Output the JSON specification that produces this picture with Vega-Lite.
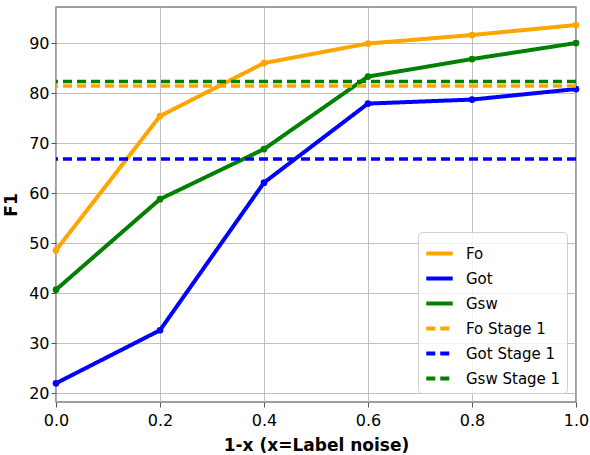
{
  "$schema": "https://vega.github.io/schema/vega-lite/v6.json",
  "autosize": {"type": "none"},
  "width": 520,
  "height": 395,
  "padding": {"left": 56, "top": 7, "right": 14, "bottom": 53},
  "config": {
    "font": "DejaVu Sans",
    "view": {"stroke": "#808080", "strokeWidth": 1.5},
    "axis": {
      "labelFont": "DejaVu Sans", "labelFontSize": 16, "labelColor": "#000",
      "titleFont": "DejaVu Sans", "titleFontSize": 17, "titleFontWeight": "bold", "titleColor": "#000",
      "gridColor": "#b0b0b0", "gridWidth": 1, "gridOpacity": 0.8,
      "tickColor": "#555", "tickSize": 5, "domain": false, "labelFlush": false
    }
  },
  "datasets": {
    "lines": [
      {"series": "Fo", "x": 0.0, "y": 48.6},
      {"series": "Fo", "x": 0.2, "y": 75.4},
      {"series": "Fo", "x": 0.4, "y": 86.0},
      {"series": "Fo", "x": 0.6, "y": 89.9},
      {"series": "Fo", "x": 0.8, "y": 91.6},
      {"series": "Fo", "x": 1.0, "y": 93.6},
      {"series": "Got", "x": 0.0, "y": 22.0},
      {"series": "Got", "x": 0.2, "y": 32.6},
      {"series": "Got", "x": 0.4, "y": 62.1},
      {"series": "Got", "x": 0.6, "y": 77.9},
      {"series": "Got", "x": 0.8, "y": 78.7},
      {"series": "Got", "x": 1.0, "y": 80.8},
      {"series": "Gsw", "x": 0.0, "y": 40.7},
      {"series": "Gsw", "x": 0.2, "y": 58.8},
      {"series": "Gsw", "x": 0.4, "y": 68.8},
      {"series": "Gsw", "x": 0.6, "y": 83.3},
      {"series": "Gsw", "x": 0.8, "y": 86.8},
      {"series": "Gsw", "x": 1.0, "y": 90.0}
    ],
    "stage": [
      {"series": "Fo Stage 1", "y": 81.4},
      {"series": "Got Stage 1", "y": 66.8},
      {"series": "Gsw Stage 1", "y": 82.3}
    ]
  },
  "encoding": {
    "color": {
      "field": "series", "type": "nominal",
      "scale": {
        "domain": ["Fo", "Got", "Gsw", "Fo Stage 1", "Got Stage 1", "Gsw Stage 1"],
        "range": ["#ffa500", "#0000ff", "#008000", "#ffa500", "#0000ff", "#008000"]
      },
      "legend": {
        "title": null,
        "orient": "bottom-right",
        "offset": 9,
        "padding": 6,
        "fillColor": "rgba(255,255,255,0.8)",
        "strokeColor": "#d0d0d0",
        "cornerRadius": 4,
        "labelFontSize": 15,
        "labelColor": "#000",
        "symbolType": "stroke",
        "symbolSize": 700,
        "symbolStrokeWidth": 4,
        "rowPadding": 1,
        "labelOffset": 11
      }
    },
    "strokeDash": {
      "field": "series", "type": "nominal",
      "scale": {
        "domain": ["Fo", "Got", "Gsw", "Fo Stage 1", "Got Stage 1", "Gsw Stage 1"],
        "range": [[1, 0], [1, 0], [1, 0], [9, 5], [9, 5], [9, 5]]
      }
    }
  },
  "layer": [
    {
      "data": {"name": "lines"},
      "mark": {"type": "line", "strokeWidth": 4, "point": {"size": 45, "filled": true, "opacity": 1}},
      "encoding": {
        "x": {
          "field": "x", "type": "quantitative",
          "scale": {"domain": [0, 1], "nice": false, "zero": false},
          "axis": {"orient": "bottom", "values": [0, 0.2, 0.4, 0.6, 0.8, 1.0], "format": ".1f", "title": "1-x (x=Label noise)", "labelPadding": 5, "titlePadding": 9}
        },
        "y": {
          "field": "y", "type": "quantitative",
          "scale": {"domain": [18.26, 97.2], "nice": false, "zero": false},
          "axis": {"orient": "left", "values": [20, 30, 40, 50, 60, 70, 80, 90], "title": "F1", "titlePadding": 8}
        }
      }
    },
    {
      "data": {"name": "stage"},
      "mark": {"type": "rule", "strokeWidth": 3.5},
      "encoding": {
        "y": {"field": "y", "type": "quantitative"}
      }
    }
  ]
}
